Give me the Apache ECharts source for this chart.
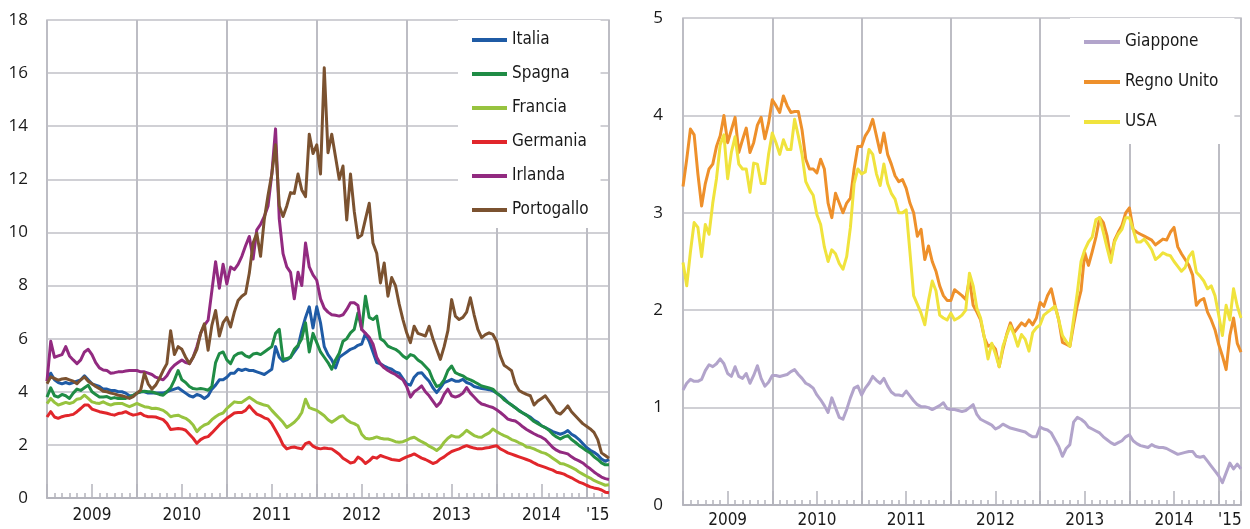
<!DOCTYPE html>
<html>
<head>
<meta charset="utf-8">
<script src="https://cdn.jsdelivr.net/npm/echarts@6/dist/echarts.min.js"></script>
<style>
  html, body { margin: 0; padding: 0; background: #fff; }
  #chart { width: 1250px; height: 529px; }
</style>
</head>
<body>
<div id="chart"></div>
<script>
// rendimenti dei titoli di Stato a 10 anni, valori ogni mezzo mese da gennaio 2009
var STEP = 0.5;        // mesi tra due valori
var END_MONTH = 75;    // fine marzo 2015
var yearLabels = ['2009', '2010', '2011', '2012', '2013', '2014', "'15"];

var italia = [
  4.4, 4.7, 4.45, 4.35, 4.3, 4.35, 4.3, 4.35, 4.4, 4.45, 4.6, 4.45, 4.3, 4.25, 4.2, 4.1, 4.1, 4.05, 4.05, 4.0, 4.0, 3.95, 3.85, 3.85,
  3.95, 4.0, 4.0, 3.95, 3.95, 3.95, 3.95, 3.95, 4.0, 4.05, 4.1, 4.15, 4.05, 3.95, 3.85, 3.8, 3.9, 3.85, 3.75, 3.85, 4.1, 4.25, 4.45, 4.45,
  4.55, 4.7, 4.7, 4.85, 4.8, 4.85, 4.8, 4.8, 4.75, 4.7, 4.65, 4.75, 4.85, 5.7, 5.3, 5.15, 5.2, 5.3, 5.5, 5.7, 6.3, 6.8, 7.2, 6.4,
  7.2, 6.6, 5.7, 5.4, 5.2, 4.9, 5.3, 5.4, 5.5, 5.6, 5.65, 5.75, 5.8, 6.2, 5.9, 5.5, 5.1, 5.05, 4.97, 4.9, 4.85, 4.75, 4.7, 4.5,
  4.3, 4.25, 4.55, 4.7, 4.72, 4.55, 4.4, 4.15, 3.97, 4.15, 4.35, 4.4, 4.47, 4.4, 4.4, 4.47, 4.35, 4.3, 4.2, 4.16, 4.12, 4.1, 4.08, 4.04,
  3.95, 3.85, 3.75, 3.6, 3.5, 3.4, 3.3, 3.2, 3.12, 3.05, 2.92, 2.85, 2.72, 2.65, 2.58, 2.5, 2.45, 2.4, 2.45, 2.54, 2.4, 2.32, 2.2, 2.05,
  1.9, 1.8, 1.72, 1.62, 1.47, 1.38, 1.45
];
var spagna = [
  3.8, 4.15, 3.85, 3.8, 3.9, 3.85, 3.75, 3.95, 4.1, 4.05, 4.15, 4.25, 4.0, 3.9, 3.8, 3.8, 3.82, 3.75, 3.78, 3.75, 3.76, 3.75, 3.8, 3.87,
  3.95, 4.0, 4.02, 4.0, 4.0, 3.95, 3.9, 3.87, 4.0, 4.15, 4.44, 4.8, 4.45, 4.35, 4.2, 4.12, 4.1, 4.12, 4.1, 4.06, 4.2, 5.1, 5.44, 5.5,
  5.2, 5.06, 5.35, 5.44, 5.47, 5.35, 5.3, 5.42, 5.45, 5.4, 5.5, 5.6, 5.7, 6.2, 6.35, 5.22, 5.25, 5.3, 5.6, 5.75, 6.0, 6.6, 5.5, 6.2,
  5.85, 5.5, 5.3, 5.1, 4.85, 5.2, 5.45, 5.9, 6.0, 6.22, 6.35, 6.97, 6.35, 7.6, 6.8, 6.72, 6.85, 6.0, 5.9, 5.72, 5.65, 5.6, 5.5, 5.35,
  5.25, 5.4, 5.35, 5.2, 5.1, 4.95, 4.8, 4.45, 4.2, 4.25, 4.45, 4.8, 4.97, 4.72, 4.65, 4.6, 4.5, 4.45, 4.38, 4.3, 4.22, 4.18, 4.14, 4.1,
  3.95, 3.85, 3.7, 3.6, 3.5, 3.4, 3.28, 3.2, 3.12, 3.0, 2.88, 2.8, 2.72, 2.65, 2.55, 2.4, 2.3, 2.22, 2.3, 2.35, 2.2, 2.1, 1.98, 1.88,
  1.78, 1.7, 1.55, 1.45, 1.32, 1.25, 1.25
];
var francia = [
  3.55, 3.75, 3.6, 3.5, 3.55, 3.6, 3.56, 3.6, 3.72, 3.75, 3.87, 3.75, 3.62, 3.58, 3.56, 3.62, 3.55, 3.5, 3.55, 3.56, 3.56, 3.5, 3.44, 3.5,
  3.56, 3.5, 3.44, 3.42, 3.37, 3.38, 3.35, 3.3, 3.2, 3.06, 3.1, 3.12, 3.05, 3.0, 2.9, 2.75, 2.5, 2.65, 2.75, 2.8, 2.95, 3.06, 3.15, 3.2,
  3.37, 3.5, 3.62, 3.6, 3.6, 3.7, 3.79, 3.7, 3.6, 3.55, 3.5, 3.47, 3.3, 3.15, 3.0, 2.85, 2.66, 2.75, 2.85, 3.0, 3.22, 3.72, 3.4, 3.35,
  3.3, 3.2, 3.1, 2.95, 2.85, 2.95, 3.05, 3.1, 2.95, 2.85, 2.8, 2.72, 2.4, 2.25, 2.22, 2.25, 2.3, 2.25, 2.22, 2.22, 2.18, 2.12, 2.1, 2.12,
  2.18, 2.25, 2.29, 2.2, 2.12, 2.05, 1.95, 1.88, 1.79, 1.9, 2.1, 2.25, 2.35, 2.3, 2.3, 2.41, 2.55, 2.45, 2.35, 2.3, 2.29, 2.38, 2.45, 2.6,
  2.5, 2.42, 2.35, 2.29, 2.2, 2.15, 2.08, 2.02, 1.92, 1.9, 1.85, 1.78, 1.72, 1.68, 1.6, 1.5, 1.4, 1.3, 1.28, 1.22, 1.15, 1.08, 0.98, 0.9,
  0.82, 0.75, 0.66, 0.6, 0.54, 0.48, 0.5
];
var germania = [
  3.05, 3.25, 3.05, 3.0, 3.06, 3.1, 3.12, 3.15, 3.25, 3.37, 3.5, 3.5, 3.35, 3.3, 3.25, 3.22, 3.19, 3.15, 3.12, 3.18, 3.2, 3.25, 3.18, 3.12,
  3.15, 3.19, 3.1, 3.06, 3.06, 3.05, 3.0, 2.95, 2.81, 2.58, 2.6, 2.62, 2.6, 2.55, 2.4, 2.25, 2.06, 2.2, 2.28, 2.31, 2.45, 2.6, 2.75, 2.88,
  3.0, 3.1, 3.2, 3.22, 3.22, 3.3, 3.47, 3.3, 3.16, 3.1, 3.02, 2.97, 2.8, 2.55, 2.3, 2.0, 1.85, 1.9, 1.92, 1.88, 1.85, 2.05, 2.1, 1.95,
  1.88, 1.85, 1.88, 1.86, 1.85, 1.75, 1.65, 1.5, 1.41, 1.32, 1.35, 1.54, 1.45, 1.3, 1.4, 1.54, 1.5, 1.6, 1.55, 1.5, 1.45, 1.43, 1.41, 1.48,
  1.55, 1.6, 1.66, 1.58, 1.5, 1.45, 1.38, 1.3, 1.35, 1.47, 1.55, 1.66, 1.75, 1.8, 1.85, 1.92, 1.97, 1.92, 1.88, 1.85, 1.85, 1.88, 1.9, 1.94,
  1.97, 1.85, 1.78, 1.7, 1.65, 1.6, 1.55, 1.5, 1.45, 1.4, 1.32, 1.25, 1.2, 1.15, 1.1, 1.05, 0.97, 0.94, 0.9, 0.82, 0.76, 0.68, 0.6, 0.55,
  0.48, 0.42, 0.38, 0.35, 0.3, 0.22, 0.2
];
var irlanda = [
  4.4, 5.9, 5.3, 5.35, 5.4, 5.7, 5.35, 5.2, 5.06, 5.2, 5.5, 5.6, 5.4, 5.1, 4.9, 4.82, 4.8, 4.7, 4.72, 4.75, 4.75, 4.78, 4.8, 4.8,
  4.8, 4.75, 4.75, 4.7, 4.65, 4.55, 4.5, 4.45, 4.6, 4.85, 5.0, 5.1, 5.2, 5.1, 5.06, 5.3, 5.7, 6.2, 6.5, 6.7, 7.8, 8.9, 7.9, 8.8,
  8.06, 8.7, 8.6, 8.8, 9.1, 9.5, 9.85, 9.0, 10.1, 10.3, 10.6, 11.0, 12.2, 13.9, 10.5, 9.2, 8.7, 8.5, 7.5, 8.5, 8.0, 9.6, 8.7, 8.4,
  8.2, 7.5, 7.15, 7.0, 6.9, 6.88, 6.85, 6.9, 7.1, 7.35, 7.35, 7.25, 6.35, 6.2, 6.05, 5.8, 5.3, 5.05, 4.9, 4.8, 4.72, 4.65, 4.55, 4.45,
  4.2, 3.8, 4.0, 4.1, 4.22, 4.0, 3.85, 3.65, 3.45, 3.6, 3.9, 4.1, 3.85, 3.8, 3.85, 3.95, 4.16, 3.95, 3.8, 3.65, 3.54, 3.5, 3.45, 3.41,
  3.32, 3.22, 3.1, 2.97, 2.93, 2.9, 2.8, 2.68, 2.58, 2.5, 2.42, 2.35, 2.29, 2.2, 2.05, 1.9, 1.8, 1.73, 1.7, 1.66, 1.55, 1.46, 1.4, 1.32,
  1.2, 1.1, 0.98, 0.88, 0.79, 0.73, 0.7
];
var portogallo = [
  4.3, 4.56, 4.5, 4.44, 4.48, 4.5, 4.45, 4.4, 4.3, 4.45, 4.56, 4.4, 4.3, 4.2, 4.12, 4.02, 4.0, 3.95, 3.92, 3.87, 3.85, 3.81, 3.75, 3.82,
  3.95, 4.06, 4.7, 4.3, 4.1, 4.25, 4.5, 4.8, 5.06, 6.3, 5.4, 5.7, 5.6, 5.3, 5.06, 5.3, 5.6, 6.2, 6.56, 5.56, 6.5, 7.06, 6.1, 6.6,
  6.8, 6.44, 7.0, 7.44, 7.6, 7.7, 8.47, 9.6, 9.97, 9.1, 10.5, 11.4, 12.2, 13.3, 11.0, 10.6, 11.0, 11.5, 11.47, 12.2, 11.6, 11.35, 13.7, 12.97,
  13.3, 12.2, 16.2, 13.0, 13.7, 12.85, 12.0, 12.5, 10.47, 12.2, 10.8, 9.8, 9.9, 10.5, 11.1, 9.6, 9.22, 8.1, 8.85, 7.6, 8.3, 8.0, 7.3, 6.72,
  6.22, 5.85, 6.47, 6.2, 6.15, 6.1, 6.47, 6.0, 5.6, 5.22, 5.7, 6.3, 7.47, 6.85, 6.72, 6.8, 7.0, 7.54, 6.9, 6.35, 6.04, 6.15, 6.22, 6.16,
  5.9, 5.35, 5.0, 4.9, 4.79, 4.3, 4.05, 3.97, 3.9, 3.85, 3.5, 3.65, 3.75, 3.85, 3.65, 3.45, 3.22, 3.16, 3.3, 3.47, 3.25, 3.1, 2.95, 2.8,
  2.7, 2.6, 2.47, 2.2, 1.7, 1.6, 1.5
];

var giappone = [
  1.18, 1.25, 1.29, 1.27, 1.27, 1.29, 1.38, 1.44, 1.42, 1.45, 1.5, 1.45, 1.35, 1.32, 1.42, 1.32, 1.3, 1.35, 1.25, 1.33, 1.43, 1.3, 1.22, 1.26,
  1.33, 1.33, 1.32, 1.33, 1.34, 1.37, 1.39, 1.34, 1.3, 1.25, 1.23, 1.2, 1.13, 1.08, 1.02, 0.95, 1.1, 1.0, 0.9, 0.88, 0.98, 1.1, 1.2, 1.22,
  1.13, 1.2, 1.25, 1.32, 1.28, 1.25, 1.3, 1.22, 1.16, 1.13, 1.13, 1.12, 1.17, 1.12, 1.07, 1.03, 1.01, 1.01, 1.0, 0.98, 1.0, 1.02, 1.05, 0.99,
  0.98, 0.98, 0.97, 0.96, 0.97, 1.0, 1.03, 0.93, 0.88, 0.86, 0.84, 0.82, 0.78, 0.8, 0.83, 0.81, 0.79, 0.78, 0.77, 0.76, 0.75, 0.72, 0.7, 0.7,
  0.8, 0.78, 0.77, 0.74, 0.67, 0.6, 0.5, 0.58, 0.62, 0.85, 0.9, 0.88, 0.85, 0.8, 0.78, 0.76, 0.74, 0.7, 0.67, 0.64, 0.62, 0.64, 0.66, 0.7,
  0.72, 0.66, 0.63, 0.61, 0.6, 0.59, 0.62, 0.6, 0.59, 0.59, 0.58, 0.56, 0.54, 0.52, 0.53, 0.54, 0.55, 0.55, 0.5, 0.49, 0.5, 0.45, 0.4, 0.35,
  0.3, 0.23, 0.33, 0.43, 0.37, 0.42, 0.37
];
var regnoUnito = [
  3.27, 3.55, 3.86, 3.8, 3.4, 3.07, 3.3, 3.45, 3.5, 3.68, 3.79, 4.0, 3.72, 3.85, 3.98, 3.62, 3.75, 3.87, 3.62, 3.72, 3.9, 3.98, 3.76, 3.92,
  4.16, 4.1, 4.03, 4.2, 4.1, 4.03, 4.04, 4.04, 3.85, 3.55, 3.45, 3.45, 3.41, 3.55, 3.45, 3.1, 2.95, 3.2, 3.1, 3.0, 3.1, 3.15, 3.45, 3.68,
  3.68, 3.79, 3.85, 3.96, 3.79, 3.62, 3.82, 3.6, 3.5, 3.38, 3.32, 3.34, 3.25, 3.1, 3.0, 2.76, 2.83, 2.52, 2.66, 2.5, 2.4, 2.25, 2.15, 2.1,
  2.1, 2.21, 2.18, 2.15, 2.11, 2.32, 2.05, 1.98, 1.9, 1.72, 1.63, 1.65, 1.6, 1.42, 1.6, 1.75, 1.87, 1.77, 1.82, 1.87, 1.84, 1.9, 1.85, 1.92,
  2.08, 2.04, 2.15, 2.22, 2.05, 1.9, 1.67, 1.65, 1.63, 1.85, 2.05, 2.2, 2.59, 2.46, 2.6, 2.75, 2.95, 2.9, 2.76, 2.52, 2.72, 2.8, 2.87, 3.0,
  3.05, 2.83, 2.8, 2.78, 2.76, 2.74, 2.72, 2.67, 2.7, 2.73, 2.72, 2.8, 2.85, 2.65, 2.58, 2.52, 2.46, 2.36, 2.05, 2.1, 2.12, 1.98, 1.9, 1.8,
  1.65, 1.53, 1.39, 1.74, 1.92, 1.66, 1.57
];
var usa = [
  2.49, 2.25, 2.6, 2.9, 2.85, 2.55, 2.88, 2.78, 3.1, 3.35, 3.7, 3.8, 3.35, 3.62, 3.78, 3.5, 3.45, 3.45, 3.21, 3.51, 3.5, 3.3, 3.3, 3.6,
  3.82, 3.72, 3.6, 3.75, 3.65, 3.65, 3.96, 3.79, 3.6, 3.32, 3.24, 3.18, 2.98, 2.88, 2.65, 2.5, 2.62, 2.58, 2.48, 2.42, 2.55, 2.85, 3.3, 3.45,
  3.4, 3.42, 3.65, 3.6, 3.4, 3.28, 3.5, 3.3, 3.2, 3.14, 3.0, 3.0, 3.03, 2.6, 2.15, 2.06, 1.97, 1.85, 2.1, 2.3, 2.2, 1.95, 1.92, 1.9,
  1.97, 1.9, 1.92, 1.95, 2.0, 2.38, 2.25, 2.02, 1.92, 1.72, 1.5, 1.66, 1.55, 1.42, 1.63, 1.74, 1.84, 1.75, 1.63, 1.75, 1.7, 1.58, 1.77, 1.82,
  1.85, 1.95, 1.98, 2.01, 2.04, 1.9, 1.74, 1.68, 1.63, 1.91, 2.18, 2.5, 2.62, 2.7, 2.75, 2.93, 2.95, 2.8, 2.64, 2.49, 2.7, 2.78, 2.83, 2.95,
  2.95, 2.83, 2.7, 2.7, 2.73, 2.68, 2.62, 2.52, 2.55, 2.59, 2.57, 2.56, 2.5, 2.45, 2.4, 2.44, 2.55, 2.6, 2.39, 2.35, 2.3, 2.22, 2.25, 2.15,
  1.95, 1.74, 2.05, 1.9, 2.22, 2.04, 1.92
];

var FONT_NARROW = '"Liberation Sans Narrow", "DejaVu Sans Condensed", "Liberation Sans", sans-serif';
var FONT_NUM = '"Open Sans", "Liberation Sans", sans-serif';
var GRID_H = '#d0d0d5';
var GRID_V = '#bdbdc4';
var TICK = '#b4b4bc';

function pairs(values) {
    return values.map(function (v, i) { return [i * STEP, v]; });
}

// etichette al centro di ogni anno visibile
var labelPos = [];
for (var i = 0; i < yearLabels.length; i++) {
    var a = i * 12, b = Math.min((i + 1) * 12, END_MONTH);
    labelPos.push((a + b) / 2);
}

function monthAxes(gridIndex, labelMargin) {
    var base = { type: 'value', gridIndex: gridIndex, position: 'bottom', min: 0, max: END_MONTH };
    return [
        // griglia verticale a inizio anno + asse
        Object.assign({}, base, {
            interval: 12,
            axisLine: { show: true, lineStyle: { color: TICK, width: 2 } },
            axisTick: { show: false },
            splitLine: { show: true, lineStyle: { color: GRID_V, width: 2 } },
            axisLabel: { show: false }
        }),
        // tacche lunghe ogni sei mesi
        Object.assign({}, base, {
            interval: 6,
            axisLine: { show: false },
            axisTick: { show: true, inside: true, length: 14, lineStyle: { color: TICK, width: 1.5 } },
            splitLine: { show: false },
            axisLabel: { show: false }
        }),
        // tacche mensili
        Object.assign({}, base, {
            interval: 1,
            axisLine: { show: false },
            axisTick: { show: true, inside: true, length: 5, lineStyle: { color: TICK, width: 1.5 } },
            splitLine: { show: false },
            axisLabel: { show: false }
        }),
        // etichette degli anni
        Object.assign({}, base, {
            interval: 12,
            axisLine: { show: false },
            axisTick: { show: false },
            splitLine: { show: false },
            axisLabel: {
                customValues: labelPos,
                margin: labelMargin,
                fontSize: 17,
                fontFamily: FONT_NARROW,
                color: '#1a1a1a',
                formatter: function (v) {
                    var k = labelPos.indexOf(v);
                    return k >= 0 ? yearLabels[k] : '';
                }
            }
        })
    ];
}

function valueAxis(gridIndex, max, interval, margin) {
    return {
        type: 'value', gridIndex: gridIndex,
        min: 0, max: max, interval: interval,
        axisLine: { show: false },
        axisTick: { show: false },
        splitLine: { show: true, lineStyle: { color: GRID_H, width: 2 } },
        axisLabel: { margin: margin, fontSize: 17, fontFamily: FONT_NUM, color: '#1a1a1a' }
    };
}

function line(name, values, color, xIdx, yIdx) {
    return {
        name: name, type: 'line',
        xAxisIndex: xIdx, yAxisIndex: yIdx,
        data: pairs(values),
        symbol: 'none', showSymbol: false,
        lineStyle: { width: 3, color: color, join: 'round' },
        itemStyle: { color: color },
        animation: false
    };
}

var legendText = { fontSize: 17, fontFamily: FONT_NARROW, color: '#1a1a1a', lineHeight: 20 };

var option = {
    backgroundColor: '#fff',
    animation: false,
    grid: [
        { left: 47, right: 641, top: 20, bottom: 31, show: true, borderColor: GRID_V, borderWidth: 1.5 },
        { left: 683, right: 9, top: 18, bottom: 24, show: true, borderColor: GRID_V, borderWidth: 1.5 }
    ],
    xAxis: monthAxes(0, 9).concat(monthAxes(1, 7)),
    yAxis: [valueAxis(0, 18, 2, 19), valueAxis(1, 5, 1, 20)],
    legend: [
        {
            data: ['Italia', 'Spagna', 'Francia', 'Germania', 'Irlanda', 'Portogallo'],
            orient: 'vertical', left: 458, top: 20,
            padding: [10, 12, 8, 14],
            backgroundColor: '#fff',
            icon: 'rect', itemWidth: 35, itemHeight: 4, itemGap: 14,
            textStyle: legendText
        },
        {
            data: ['Giappone', 'Regno Unito', 'USA'],
            orient: 'vertical', left: 1070, top: 18,
            padding: [14, 16, 12, 14],
            backgroundColor: '#fff',
            icon: 'rect', itemWidth: 36, itemHeight: 4, itemGap: 20,
            textStyle: legendText
        }
    ],
    series: [
        line('Italia', italia, '#1f5ba5', 0, 0),
        line('Spagna', spagna, '#1f8c45', 0, 0),
        line('Francia', francia, '#97c33f', 0, 0),
        line('Germania', germania, '#e1262b', 0, 0),
        line('Irlanda', irlanda, '#922a80', 0, 0),
        line('Portogallo', portogallo, '#7b5230', 0, 0),
        line('Giappone', giappone, '#b2a4cb', 4, 1),
        line('Regno Unito', regnoUnito, '#ee902b', 4, 1),
        line('USA', usa, '#f0e33d', 4, 1)
    ]
};

var chart = echarts.init(document.getElementById('chart'));
chart.setOption(option);
</script>
</body>
</html>
